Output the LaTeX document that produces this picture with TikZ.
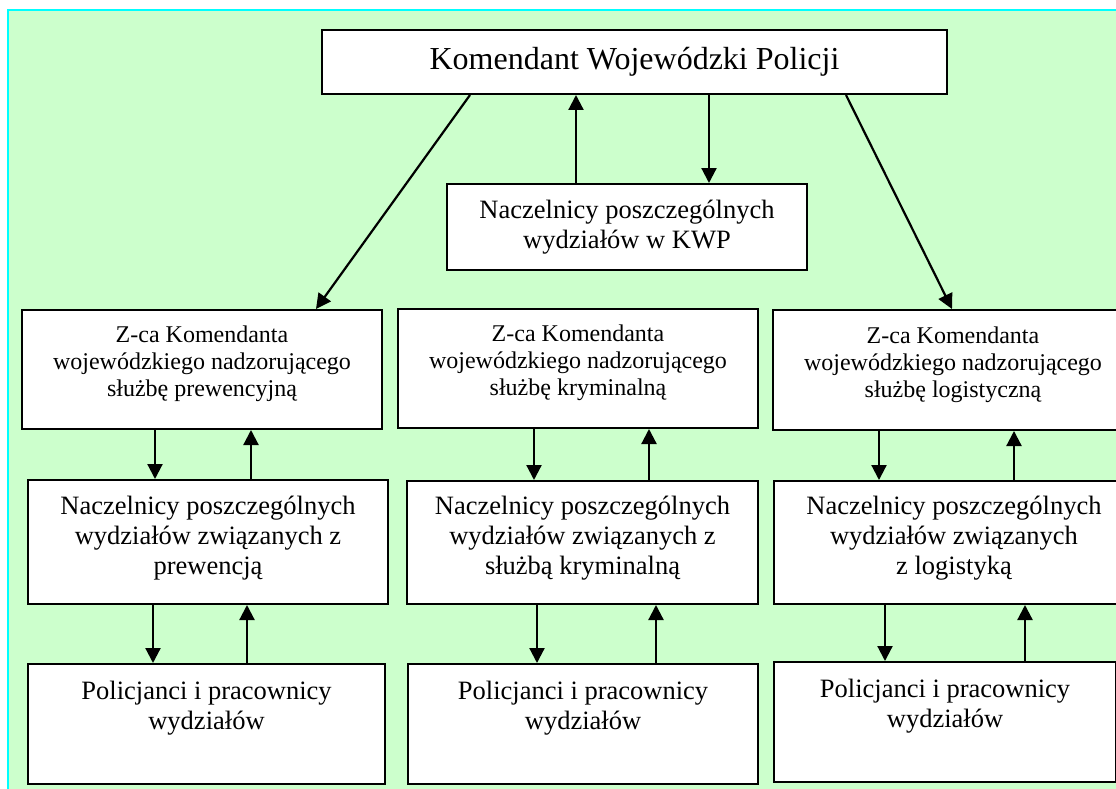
\documentclass[tikz,border=0pt]{standalone}
\usepackage{fontspec}
\setmainfont{Liberation Serif}
\usetikzlibrary{arrows.meta, calc}

\definecolor{bggreen}{HTML}{CCFFCC}
\definecolor{bgcyan}{HTML}{00FFFF}

\begin{document}
\begin{tikzpicture}[x=1pt, y=-1pt,
    box/.style={draw, line width=2pt, fill=white, inner sep=0pt, align=center, anchor=north west},
    arr/.style={line width=2.2pt, -{Triangle[length=15pt, width=15pt]}},
    bigtxt/.style={font=\fontsize{32}{36}\selectfont},
    midtxt/.style={font=\fontsize{26.5}{30}\selectfont},
    smalltxt/.style={font=\fontsize{24}{27}\selectfont}]
    \useasboundingbox (0,0) rectangle (1116,789);
    \clip (0,0) rectangle (1116,789);

    % Background frame
    \draw[fill=bggreen, draw=bgcyan, line width=2.4pt] (8,10) rectangle (1130,800);

    % Top level
    \node[box, bigtxt, minimum width=625pt, minimum height=64pt] (kom) at (321,29) {Komendant Wojewódzki Policji};
    \node[box, midtxt, minimum width=360pt, minimum height=86pt] (kwp) at (446,183) {Naczelnicy poszczególnych\\wydziałów w KWP};

    % Deputies
    \node[box, smalltxt, text depth=16pt, minimum width=360pt, minimum height=119pt] (zl) at (21,309) {Z-ca Komendanta\\wojewódzkiego nadzorującego\\służbę prewencyjną};
    \node[box, smalltxt, text depth=16pt, minimum width=360pt, minimum height=119pt] (zk) at (397,308) {Z-ca Komendanta\\wojewódzkiego nadzorującego\\służbę kryminalną};
    \node[box, smalltxt, text depth=16pt, minimum width=360pt, minimum height=120pt] (zg) at (772,309) {Z-ca Komendanta\\wojewódzkiego nadzorującego\\służbę logistyczną};

    % Heads of departments
    \node[box, midtxt, text depth=14pt, minimum width=360pt, minimum height=124pt] (nl) at (27,479) {Naczelnicy poszczególnych\\wydziałów związanych z\\prewencją};
    \node[box, midtxt, text depth=14pt, minimum width=351pt, minimum height=123pt] (nk) at (406,480) {Naczelnicy poszczególnych\\wydziałów związanych z\\służbą kryminalną};
    \node[box, midtxt, text depth=14pt, minimum width=360pt, minimum height=123pt] (ng) at (773,480) {Naczelnicy poszczególnych\\wydziałów związanych\\z logistyką};

    % Officers and staff
    \node[box, midtxt, text depth=38pt, minimum width=357pt, minimum height=120pt] (pl) at (27,663) {Policjanci i pracownicy\\wydziałów};
    \node[box, midtxt, text depth=38pt, minimum width=350pt, minimum height=120pt] (pk) at (407,663) {Policjanci i pracownicy\\wydziałów};
    \node[box, midtxt, text depth=38pt, minimum width=342pt, minimum height=120pt] (pg) at (773,661) {Policjanci i pracownicy\\wydziałów};

    % Arrows from the top
    \draw[arr] (kwp.north -| 576,0) -- (kom.south -| 576,0);
    \draw[arr] (kom.south -| 709,0) -- (kwp.north -| 709,0);
    \draw[arr] (kom.south -| 470,0) -- (zl.north -| 316,0);
    \draw[arr] (kom.south -| 846,0) -- (zg.north -| 952,0);

    % Deputies <-> heads
    \draw[arr] (zl.south -| 155,0) -- (nl.north -| 155,0);
    \draw[arr] (nl.north -| 251,0) -- (zl.south -| 251,0);
    \draw[arr] (zk.south -| 534,0) -- (nk.north -| 534,0);
    \draw[arr] (nk.north -| 649,0) -- (zk.south -| 649,0);
    \draw[arr] (zg.south -| 879,0) -- (ng.north -| 879,0);
    \draw[arr] (ng.north -| 1014,0) -- (zg.south -| 1014,0);

    % Heads <-> staff
    \draw[arr] (nl.south -| 153,0) -- (pl.north -| 153,0);
    \draw[arr] (pl.north -| 247,0) -- (nl.south -| 247,0);
    \draw[arr] (nk.south -| 537,0) -- (pk.north -| 537,0);
    \draw[arr] (pk.north -| 656,0) -- (nk.south -| 656,0);
    \draw[arr] (ng.south -| 885,0) -- (pg.north -| 885,0);
    \draw[arr] (pg.north -| 1025,0) -- (ng.south -| 1025,0);
\end{tikzpicture}
\end{document}
